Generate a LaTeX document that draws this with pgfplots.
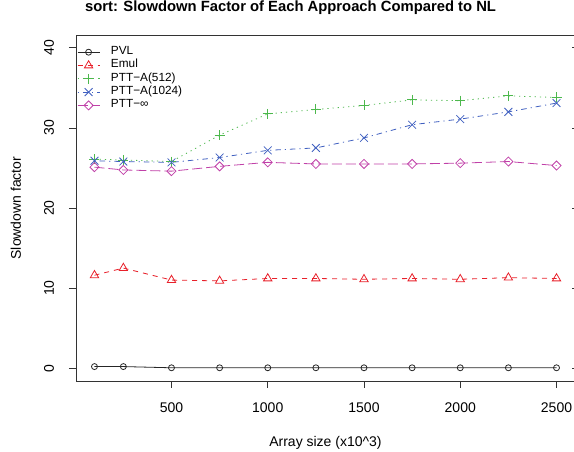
\documentclass[border=0pt]{standalone}
\usepackage{fontspec}
\setmainfont{Liberation Sans}
\usepackage{pgfplots}
\pgfplotsset{compat=1.18}

\definecolor{rred}{HTML}{E8202A}
\definecolor{rgreen}{HTML}{4DB84D}
\definecolor{rblue}{HTML}{4060C0}
\definecolor{rmag}{HTML}{C040A8}

\pgfplotsset{
  rbox/.style={
    scale only axis,
    width=499pt, height=346pt,
    xmin=4, xmax=2596,
    ymin=-1.6, ymax=41.6,
    ytick={0,10,20,30,40},
  },
}

\begin{document}
\begin{tikzpicture}
\begin{axis}[
  rbox,
  name=main,
  xtick={500,1000,1500,2000,2500},
  scaled x ticks=false,
  /pgf/number format/1000 sep={},
  /pgf/number format/assume math mode=true,
  tick align=outside,
  major tick length=7pt,
  xtick pos=bottom,
  ytick pos=left,
  tick label style={font=\fontsize{14}{16}\selectfont, inner sep=0pt},
  xticklabel style={anchor=base, yshift=-25pt},
  yticklabel style={xshift=-15pt, rotate=90, anchor=base},
  axis line style={line width=0.8pt, black!80},
  every tick/.style={line width=0.8pt, black!80},
  title={\bfseries sort: Slowdown Factor of Each Approach Compared to NL},
  title style={font=\fontsize{14.8}{17}\selectfont, at={(0.43,1)}, anchor=base, yshift=17.5pt, inner sep=0pt},
  xlabel={Array size (x10\textasciicircum 3)},
  ylabel={Slowdown factor},
  label style={font=\fontsize{14}{16}\selectfont, inner sep=0pt},
  xlabel style={at={(0.5,0)}, anchor=base, yshift=-66pt},
  ylabel style={at={(0,0.5)}, anchor=base, yshift=55pt},
  legend image code/.code={\draw[mark repeat=2, mark phase=2] plot coordinates {(0pt,0pt)(11pt,0pt)(22pt,0pt)};},
  legend style={at={(0,1)}, anchor=north west, xshift=1pt, yshift=-12pt,
    draw=none, fill=none, inner sep=0pt,
    nodes={inner sep=0pt, text height=7.5pt, text depth=2.5pt},
    font=\fontsize{11.8}{13}\selectfont, row sep=3.3pt,
    /tikz/every odd column/.append style={column sep=11pt}},
  legend cell align=left,
  every axis plot/.append style={line width=0.8pt},
]
\addplot[black!85, mark=o, mark size=3pt, mark options={solid}]
  coordinates {(100,0.2)(250,0.2)(500,0.05)(750,0.05)(1000,0.05)(1250,0.05)(1500,0.05)(1750,0.05)(2000,0.05)(2250,0.05)(2500,0.05)};
\addlegendentry{PVL}
\addplot[rred, dash pattern=on 5pt off 5pt, mark=triangle, mark size=4.8pt, mark options={solid}]
  coordinates {(100,11.6)(250,12.5)(500,11.0)(750,10.9)(1000,11.2)(1250,11.2)(1500,11.1)(1750,11.2)(2000,11.1)(2250,11.3)(2500,11.2)};
\addlegendentry{Emul}
\addplot[rgreen, dash pattern=on 1.2pt off 4pt, mark=+, mark size=5pt, mark options={solid}]
  coordinates {(100,26.1)(250,26.0)(500,25.8)(750,29.1)(1000,31.75)(1250,32.3)(1500,32.8)(1750,33.5)(2000,33.4)(2250,34.0)(2500,33.8)};
\addlegendentry{PTT−A(512)}
\addplot[rblue, dash pattern=on 1.2pt off 4pt on 5.5pt off 4pt, mark=x, mark size=5.5pt, mark options={solid}]
  coordinates {(100,25.9)(250,25.8)(500,25.7)(750,26.3)(1000,27.2)(1250,27.5)(1500,28.75)(1750,30.4)(2000,31.1)(2250,32.0)(2500,33.1)};
\addlegendentry{PTT−A(1024)}
\addplot[rmag, dash pattern=on 10pt off 4pt, mark=square, mark size=3.2pt, mark options={solid, rotate=45}]
  coordinates {(100,25.1)(250,24.75)(500,24.6)(750,25.2)(1000,25.7)(1250,25.5)(1500,25.5)(1750,25.5)(2000,25.6)(2250,25.8)(2500,25.3)};
\addlegendentry{PTT−∞}
\end{axis}
% right-hand axis: short inward ticks, no labels
\begin{axis}[
  rbox,
  at={(main.south west)}, anchor=south west,
  axis x line=none,
  axis y line*=right,
  yticklabels={},
  tick align=inside,
  major tick length=3pt,
  axis line style={line width=0.8pt, black!80},
  every tick/.style={line width=0.8pt, black!80},
]
\end{axis}
\pgfresetboundingbox
\path[use as bounding box] ([shift={(-76pt,-71pt)}]main.south west) rectangle ([shift={(498pt,381pt)}]main.south west);
\end{tikzpicture}
\end{document}
